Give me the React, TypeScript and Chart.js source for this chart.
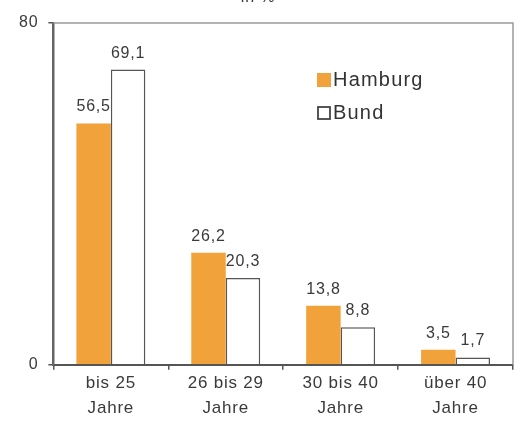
import React, { useEffect, useRef } from "react";
import { Chart, registerables } from "chart.js";

Chart.register(...registerables);

const categories: string[][] = [
  ["bis 25", "Jahre"],
  ["26 bis 29", "Jahre"],
  ["30 bis 40", "Jahre"],
  ["über 40", "Jahre"],
];
const hamburg = [56.5, 26.2, 13.8, 3.5];
const bund = [69.1, 20.3, 8.8, 1.7];
const yTicks = [0, 80];
const titleText = "in %";
const seriesNames = ["Hamburg", "Bund"];

const FONT = "'Liberation Sans', Arial, sans-serif";
const TEXT = "#3a3a3a";
const ORANGE = "#F2A23A";

const fmt = (v: number) => v.toFixed(1).replace(".", ",");

const spacingPlugin = {
  id: "spacing",
  beforeUpdate(chart: any) {
    chart.ctx.letterSpacing = "0.8px";
  },
  beforeDraw(chart: any) {
    chart.ctx.letterSpacing = "0.8px";
  },
};

const decorPlugin = {
  id: "decor",
  afterDatasetsDraw(chart: any) {
    const { ctx, chartArea } = chart;
    ctx.save();
    // box top & right
    ctx.strokeStyle = "#9a9a9a";
    ctx.lineWidth = 1.5;
    ctx.beginPath();
    ctx.moveTo(chartArea.left, chartArea.top);
    ctx.lineTo(chartArea.right, chartArea.top);
    ctx.lineTo(chartArea.right, chartArea.bottom);
    ctx.stroke();
    // data labels
    ctx.letterSpacing = "0.8px";
    ctx.fillStyle = TEXT;
    ctx.font = `16px ${FONT}`;
    ctx.textAlign = "center";
    ctx.textBaseline = "alphabetic";
    chart.data.datasets.forEach((ds: any, di: number) => {
      const meta = chart.getDatasetMeta(di);
      meta.data.forEach((bar: any, i: number) => {
        ctx.fillText(fmt(ds.data[i]), bar.x, bar.y - 12);
      });
    });
    // title (cut at top)
    ctx.font = `16px ${FONT}`;
    ctx.textBaseline = "middle";
    ctx.fillText(titleText, 258, -2);
    // legend
    const lx = 317;
    const ly = [80, 113];
    ctx.letterSpacing = "1.2px";
    ctx.font = `20px ${FONT}`;
    ctx.textAlign = "left";
    ctx.textBaseline = "middle";
    ctx.fillStyle = ORANGE;
    ctx.fillRect(lx, ly[0] - 7, 14, 14);
    ctx.strokeStyle = "#444";
    ctx.lineWidth = 1.8;
    ctx.fillStyle = "#fff";
    ctx.fillRect(lx + 1, ly[1] - 6, 12, 12);
    ctx.strokeRect(lx + 1, ly[1] - 6, 12, 12);
    ctx.fillStyle = "#333";
    ctx.fillText(seriesNames[0], lx + 16, ly[0]);
    ctx.fillText(seriesNames[1], lx + 16, ly[1]);
    ctx.restore();
  },
};

export default function App() {
  const ref = useRef<HTMLCanvasElement>(null);
  useEffect(() => {
    if (!ref.current) return;
    const chart = new Chart(ref.current, {
      type: "bar",
      data: {
        labels: categories,
        datasets: [
          {
            label: seriesNames[0],
            data: hamburg,
            backgroundColor: ORANGE,
            borderWidth: 0,
            categoryPercentage: 0.6,
            barPercentage: 1,
          },
          {
            label: seriesNames[1],
            data: bund,
            backgroundColor: "#ffffff",
            borderColor: "#555555",
            borderWidth: 1.5,
            categoryPercentage: 0.6,
            barPercentage: 1,
          },
        ],
      },
      options: {
        animation: false,
        responsive: false,
        maintainAspectRatio: false,
        layout: { padding: { left: 9, right: 7, top: 23, bottom: 6 } },
        plugins: {
          legend: { display: false },
          title: { display: false },
          tooltip: { enabled: false },
        },
        scales: {
          x: {
            grid: {
              display: true,
              drawOnChartArea: false,
              drawTicks: true,
              tickLength: 5,
              color: "#555",
              lineWidth: 1.5,
              offset: true,
            },
            border: { color: "#555", width: 2 },
            ticks: {
              color: TEXT,
              font: { family: FONT, size: 17, lineHeight: 1.42 },
              padding: 2,
              maxRotation: 0,
              autoSkip: false,
            },
          },
          y: {
            min: 0,
            max: 80,
            afterBuildTicks: (axis: any) => {
              axis.ticks = yTicks.map((v) => ({ value: v }));
            },
            grid: {
              display: true,
              drawOnChartArea: false,
              tickLength: 5,
              color: "#555",
              lineWidth: 1.5,
            },
            border: { color: "#666", width: 2.5 },
            ticks: {
              color: TEXT,
              font: { family: FONT, size: 16 },
              padding: 10,
            },
          },
        },
      },
      plugins: [spacingPlugin, decorPlugin],
    });
    return () => chart.destroy();
  }, []);
  return (
    <div style={{ position: "absolute", left: 0, top: 0, width: 520, height: 428, overflow: "hidden", background: "#fff" }}>
      <canvas ref={ref} width={520} height={428} style={{ width: 520, height: 428, display: "block" }} />
    </div>
  );
}
